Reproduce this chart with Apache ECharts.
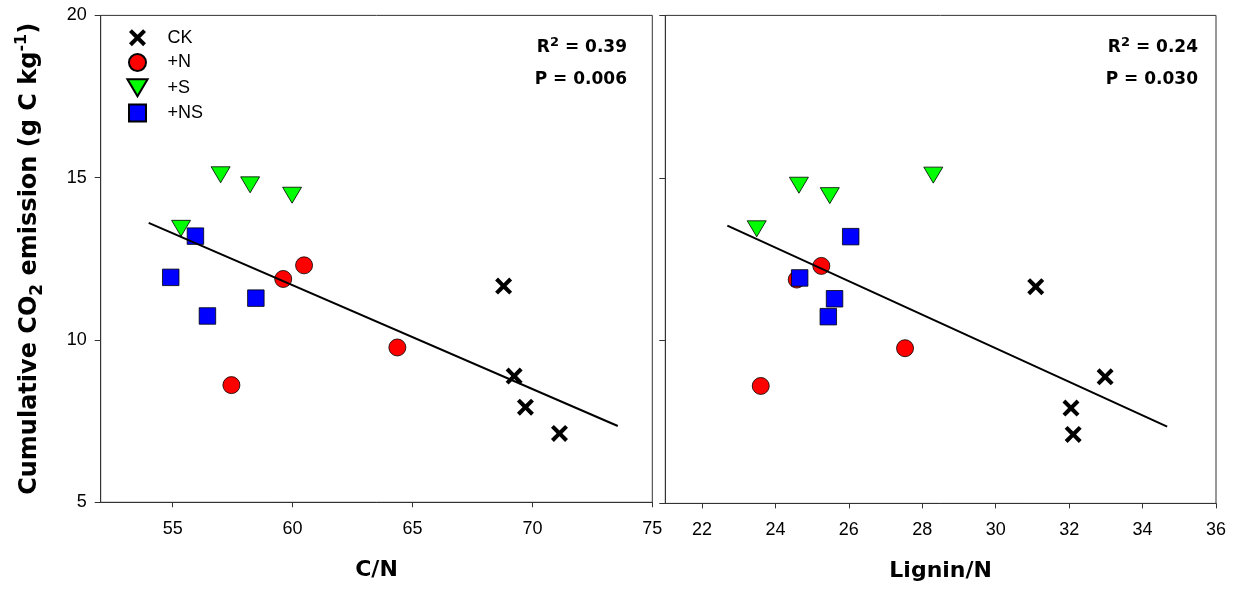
<!DOCTYPE html>
<html>
<head>
<meta charset="utf-8">
<title>Cumulative CO2 emission vs C/N and Lignin/N</title>
<script src="https://cdn.jsdelivr.net/npm/echarts@6/dist/echarts.min.js"></script>
<style>
  html, body { margin: 0; padding: 0; background: #fff; }
  #chart { width: 1238px; height: 590px; }
</style>
</head>
<body>
<div id="chart"></div>
<script>
// Treatments
const treatments = ['CK', '+N', '+S', '+NS'];

// C/N ratio of each sample, per treatment
const cnCK = [68.80, 69.24, 69.71, 71.13];
const cnN = [60.48, 59.61, 64.37, 57.45];
const cnS = [57.00, 58.23, 59.98, 55.35];
const cnNS = [55.95, 54.92, 58.47, 56.45];

// Lignin/N ratio of each sample, per treatment
const lnCK = [31.09, 32.98, 32.05, 32.11];
const lnN = [25.25, 24.58, 27.53, 23.60];
const lnS = [28.30, 24.64, 25.48, 23.49];
const lnNS = [26.05, 24.66, 25.61, 25.44];

// Cumulative CO2 emission (g C kg-1), same samples in both panels
const co2CK = [11.66, 8.89, 7.93, 7.12];
const co2N = [12.30, 11.88, 9.77, 8.61];
const co2S = [15.09, 14.78, 14.46, 13.44];
const co2NS = [13.20, 11.93, 11.29, 10.74];

// Linear regression lines (end points)
const cnFitX = [54.0, 73.56];
const cnFitY = [13.61, 7.35];
const lnFitX = [22.69, 34.67];
const lnFitY = [13.54, 7.36];

// Regression statistics
const statR2 = ['0.39', '0.24'];
const statP = ['0.006', '0.030'];

// Tick labels
const cnTicks = [55, 60, 65, 70, 75];
const lnTicks = [22, 24, 26, 28, 30, 32, 34, 36];

const SANS = "'Liberation Sans', Arial, sans-serif";
const BOLD = "'DejaVu Sans', sans-serif";

const SYM_X = 'path://M0,17L17,0L50,33L83,0L100,17L67,50L100,83L83,100L50,67L17,100L0,83L33,50Z';
const SYM_TRI = 'path://M0,0L19,0L9.5,16Z';
const SYM_SQ = 'path://M0,0L10,0L10,10L0,10Z';

const styles = {
  'CK':  { symbol: SYM_X, symbolSize: [17, 17], itemStyle: { color: '#000000', borderWidth: 0, opacity: 1 } },
  '+N':  { symbol: 'circle', symbolSize: 17, itemStyle: { color: '#ff0000', borderColor: '#000', borderWidth: 0.8, opacity: 1 } },
  '+S':  { symbol: SYM_TRI, symbolSize: [19, 16], itemStyle: { color: '#00ff00', borderColor: '#000', borderWidth: 0.8, opacity: 1 } },
  '+NS': { symbol: SYM_SQ, symbolSize: [16.5, 16.5], itemStyle: { color: '#0000ff', borderColor: '#000', borderWidth: 0.8, opacity: 1 } }
};

function pairs(xs, ys) { return xs.map((x, i) => [x, ys[i]]); }

function scatter(name, xs, ys, gi) {
  const s = styles[name];
  return {
    name: name, type: 'scatter',
    xAxisIndex: gi, yAxisIndex: gi,
    symbol: s.symbol, symbolSize: s.symbolSize,
    itemStyle: s.itemStyle,
    emphasis: { disabled: true },
    data: pairs(xs, ys)
  };
}

function fitLine(xs, ys, gi) {
  return {
    name: 'fit' + gi, type: 'line',
    xAxisIndex: gi, yAxisIndex: gi,
    symbol: 'none', silent: true, z: 5,
    lineStyle: { color: '#000', width: 2 },
    data: pairs(xs, ys)
  };
}

const axisLine = { show: true, lineStyle: { color: '#333', width: 1 } };

function xAxisOf(gi, min, max, ticks, name) {
  return {
    type: 'value', gridIndex: gi, min: min, max: max,
    name: name, nameLocation: 'middle', nameGap: 57,
    nameTextStyle: { fontFamily: BOLD, fontWeight: 'bold', fontSize: 22, color: '#000' },
    axisLine: axisLine,
    axisTick: { show: true, length: 5, customValues: ticks, lineStyle: { color: '#333' } },
    axisLabel: { fontFamily: SANS, fontSize: 18, color: '#000', margin: 18, customValues: ticks },
    splitLine: { show: false }
  };
}

function yAxisOf(gi, showLabel) {
  const ax = {
    type: 'value', gridIndex: gi, min: 5, max: 20, interval: 5,
    axisLine: axisLine,
    axisTick: { show: true, length: 6, lineStyle: { color: '#333' } },
    axisLabel: { show: showLabel, fontFamily: SANS, fontSize: 18, color: '#000', margin: 14 },
    splitLine: { show: false }
  };
  if (showLabel) {
    ax.name = '{b|Cumulative CO}{sub|2}{b| emission (g C kg}{sup|-1}{b|)}';
    ax.nameLocation = 'middle';
    ax.nameGap = 55;
    ax.nameTextStyle = {
      rich: {
        b: { fontFamily: BOLD, fontWeight: 'bold', fontSize: 24, color: '#000', lineHeight: 32, verticalAlign: 'middle' },
        sub: { fontFamily: BOLD, fontWeight: 'bold', fontSize: 17, color: '#000', lineHeight: 20, verticalAlign: 'bottom' },
        sup: { fontFamily: BOLD, fontWeight: 'bold', fontSize: 16, color: '#000', lineHeight: 13, verticalAlign: 'top' }
      }
    };
  }
  return ax;
}

function statTitles(i, right) {
  return [
    {
      text: '{b|R}{s|2}{b| = ' + statR2[i] + '}',
      right: right, top: 36, padding: 0,
      textStyle: {
        rich: {
          b: { fontFamily: BOLD, fontWeight: 'bold', fontSize: 17, color: '#000', lineHeight: 24, verticalAlign: 'middle' },
          s: { fontFamily: BOLD, fontWeight: 'bold', fontSize: 13, color: '#000', lineHeight: 10, verticalAlign: 'top' }
        }
      }
    },
    {
      text: 'P = ' + statP[i],
      right: right, top: 70, padding: 0,
      textStyle: { fontFamily: BOLD, fontWeight: 'bold', fontSize: 17, color: '#000', lineHeight: 20 }
    }
  ];
}

const chart = echarts.init(document.getElementById('chart'), null, { renderer: 'canvas' });

chart.setOption({
  animation: false,
  backgroundColor: '#fff',
  title: statTitles(0, 611).concat(statTitles(1, 40)),
  legend: {
    orient: 'vertical', left: 126.4, top: 28.7, padding: 0,
    itemWidth: 50, itemHeight: 17, itemGap: 6.3,
    selectedMode: false,
    data: treatments,
    textStyle: { fontFamily: SANS, fontSize: 18, color: '#000' }
  },
  grid: [
    { left: 100.7, top: 15.4, width: 551.6, height: 486.9, show: true, borderColor: '#333', borderWidth: 1, containLabel: false },
    { left: 665.3, top: 15.4, width: 550.7, height: 488, show: true, borderColor: '#333', borderWidth: 1, containLabel: false }
  ],
  xAxis: [
    xAxisOf(0, 52, 75, cnTicks, 'C/N'),
    xAxisOf(1, 21, 36, lnTicks, 'Lignin/N')
  ],
  yAxis: [yAxisOf(0, true), yAxisOf(1, false)],
  series: [
    scatter('CK', cnCK, co2CK, 0),
    scatter('+N', cnN, co2N, 0),
    scatter('+S', cnS, co2S, 0),
    scatter('+NS', cnNS, co2NS, 0),
    fitLine(cnFitX, cnFitY, 0),
    scatter('CK', lnCK, co2CK, 1),
    scatter('+N', lnN, co2N, 1),
    scatter('+S', lnS, co2S, 1),
    scatter('+NS', lnNS, co2NS, 1),
    fitLine(lnFitX, lnFitY, 1)
  ]
});
</script>
</body>
</html>
